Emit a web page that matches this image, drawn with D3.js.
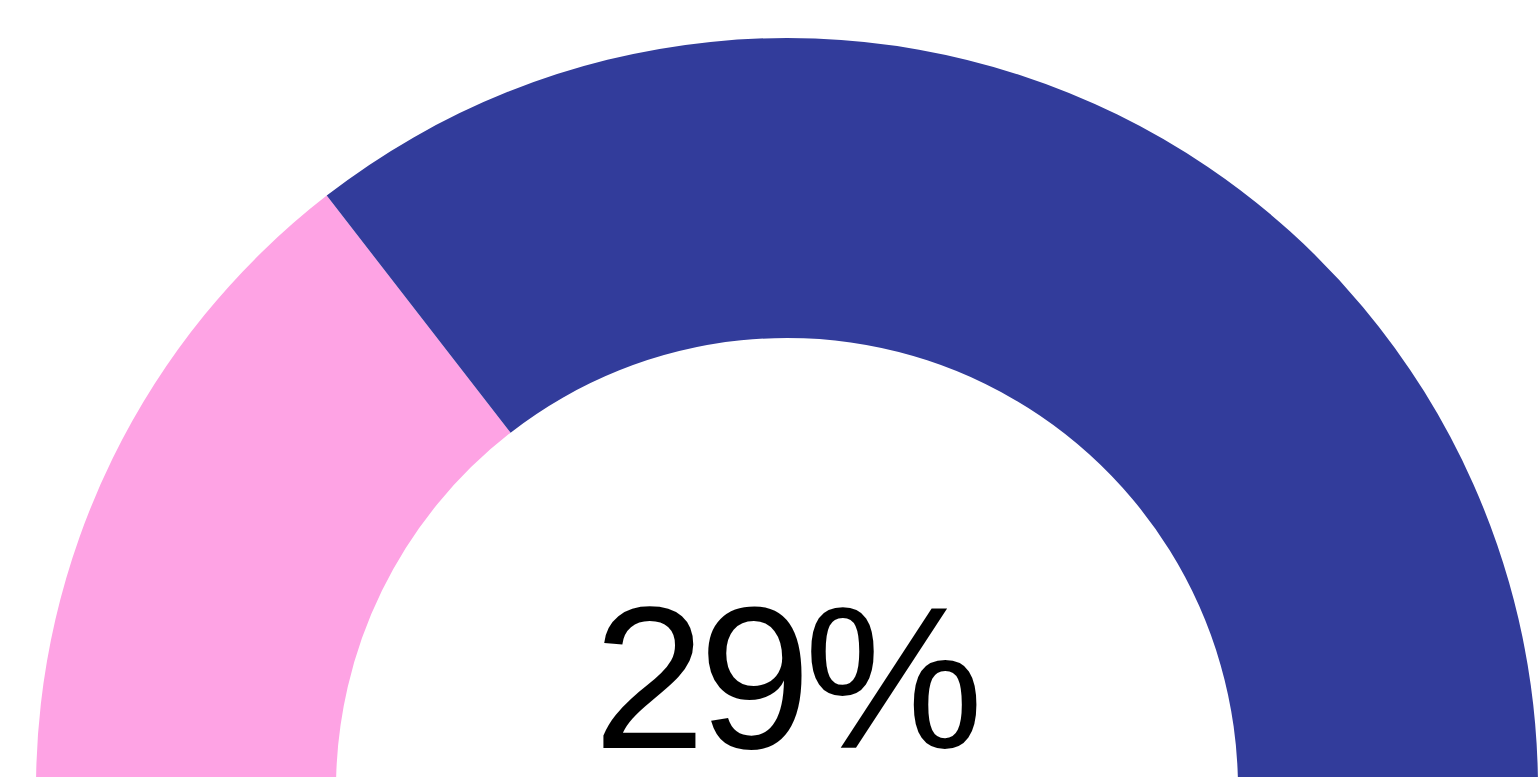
<!DOCTYPE html>
<html>
<head>
<meta charset="utf-8">
<script src="https://cdn.jsdelivr.net/npm/d3@7"></script>
<style>
  html, body { margin: 0; padding: 0; background: #fff; overflow: hidden; }
</style>
</head>
<body>
<svg id="chart" width="1540" height="777"></svg>
<script>
var categories = ["Done", "Remaining"],
	values = [29, 71],
	colors = ["#FEA3E4", "#323C9B"];

var width = 1540,
	height = 777,
	cx = 787,
	cy = 789,
	outer = 751,
	inner = 451;

var svg = d3.select("#chart");

var pie = d3.pie()
	.sort(null)
	.startAngle(-Math.PI / 2)
	.endAngle(Math.PI / 2);

var arc = d3.arc()
	.innerRadius(inner)
	.outerRadius(outer);

var g = svg.append("g")
	.attr("transform", "translate(" + cx + "," + cy + ")");

// gauge slices
g.selectAll("path")
	.data(pie(values))
	.enter()
	.append("path")
	.attr("d", arc)
	.attr("fill", function(d, i) { return colors[i]; });

// percentage label
var total = d3.sum(values);
svg.append("text")
	.attr("x", cx - 2)
	.attr("y", 748)
	.attr("text-anchor", "middle")
	.attr("font-family", "'Liberation Sans', Arial, sans-serif")
	.attr("font-size", 202)
	.attr("letter-spacing", -7)
	.attr("fill", "#000")
	.text(Math.round(values[0] / total * 100) + "%");
</script>
</body>
</html>
